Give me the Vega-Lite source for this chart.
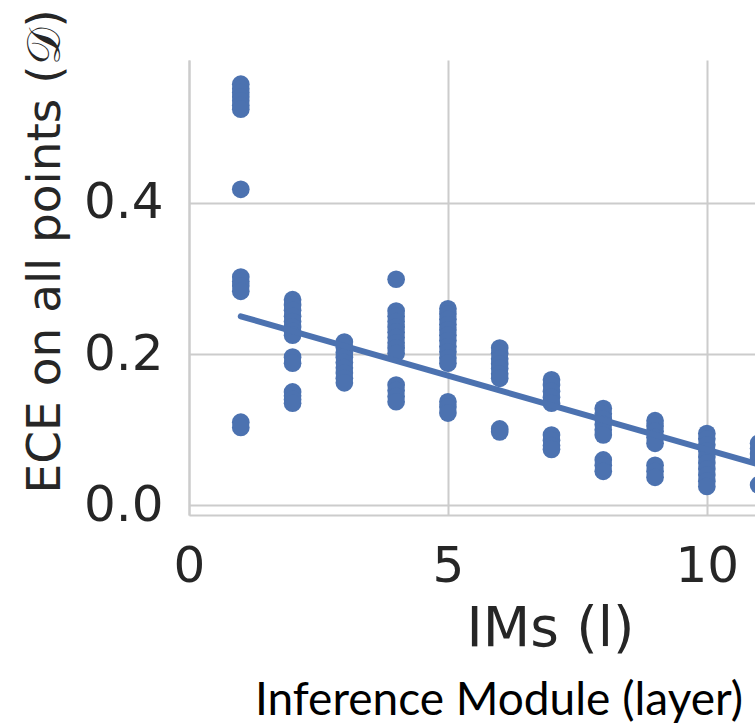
{
  "$schema": "https://vega.github.io/schema/vega-lite/v6.json",
  "width": 566,
  "height": 455,
  "autosize": {"type": "none"},
  "padding": {"left": 189, "top": 60, "right": 0, "bottom": 211},
  "background": "white",
  "config": {
    "view": {"stroke": null},
    "font": "DejaVu Sans"
  },
  "title": {
    "text": "Inference Module (layer)",
    "orient": "bottom",
    "anchor": "middle",
    "frame": "group",
    "font": "Lato",
    "fontSize": 46,
    "fontWeight": "normal",
    "color": "#000000",
    "dx": 27,
    "offset": 23
  },
  "datasets": {
    "pts": [
      {"l": 1, "ece": 0.557}, {"l": 1, "ece": 0.551}, {"l": 1, "ece": 0.546}, {"l": 1, "ece": 0.540}, {"l": 1, "ece": 0.535}, {"l": 1, "ece": 0.529}, {"l": 1, "ece": 0.524},
      {"l": 1, "ece": 0.418},
      {"l": 1, "ece": 0.302}, {"l": 1, "ece": 0.296}, {"l": 1, "ece": 0.290}, {"l": 1, "ece": 0.283},
      {"l": 1, "ece": 0.110}, {"l": 1, "ece": 0.103},
      {"l": 2, "ece": 0.272}, {"l": 2, "ece": 0.265}, {"l": 2, "ece": 0.258}, {"l": 2, "ece": 0.250}, {"l": 2, "ece": 0.243}, {"l": 2, "ece": 0.236}, {"l": 2, "ece": 0.230}, {"l": 2, "ece": 0.225},
      {"l": 2, "ece": 0.196}, {"l": 2, "ece": 0.188},
      {"l": 2, "ece": 0.150}, {"l": 2, "ece": 0.145}, {"l": 2, "ece": 0.140}, {"l": 2, "ece": 0.135},
      {"l": 3, "ece": 0.216}, {"l": 3, "ece": 0.209}, {"l": 3, "ece": 0.202}, {"l": 3, "ece": 0.196}, {"l": 3, "ece": 0.189}, {"l": 3, "ece": 0.182}, {"l": 3, "ece": 0.175}, {"l": 3, "ece": 0.168}, {"l": 3, "ece": 0.162},
      {"l": 4, "ece": 0.299},
      {"l": 4, "ece": 0.257}, {"l": 4, "ece": 0.250}, {"l": 4, "ece": 0.243}, {"l": 4, "ece": 0.236}, {"l": 4, "ece": 0.229}, {"l": 4, "ece": 0.222}, {"l": 4, "ece": 0.215}, {"l": 4, "ece": 0.208}, {"l": 4, "ece": 0.201},
      {"l": 4, "ece": 0.159}, {"l": 4, "ece": 0.152}, {"l": 4, "ece": 0.144}, {"l": 4, "ece": 0.137},
      {"l": 5, "ece": 0.260}, {"l": 5, "ece": 0.253}, {"l": 5, "ece": 0.246}, {"l": 5, "ece": 0.239}, {"l": 5, "ece": 0.232}, {"l": 5, "ece": 0.225}, {"l": 5, "ece": 0.218}, {"l": 5, "ece": 0.210}, {"l": 5, "ece": 0.203}, {"l": 5, "ece": 0.195}, {"l": 5, "ece": 0.188},
      {"l": 5, "ece": 0.137}, {"l": 5, "ece": 0.130}, {"l": 5, "ece": 0.122},
      {"l": 6, "ece": 0.208}, {"l": 6, "ece": 0.201}, {"l": 6, "ece": 0.194}, {"l": 6, "ece": 0.187}, {"l": 6, "ece": 0.181}, {"l": 6, "ece": 0.174}, {"l": 6, "ece": 0.168},
      {"l": 6, "ece": 0.101}, {"l": 6, "ece": 0.097},
      {"l": 7, "ece": 0.166}, {"l": 7, "ece": 0.159}, {"l": 7, "ece": 0.151}, {"l": 7, "ece": 0.143}, {"l": 7, "ece": 0.135},
      {"l": 7, "ece": 0.093}, {"l": 7, "ece": 0.086}, {"l": 7, "ece": 0.079}, {"l": 7, "ece": 0.074},
      {"l": 8, "ece": 0.128}, {"l": 8, "ece": 0.121}, {"l": 8, "ece": 0.114}, {"l": 8, "ece": 0.107}, {"l": 8, "ece": 0.100}, {"l": 8, "ece": 0.093},
      {"l": 8, "ece": 0.060}, {"l": 8, "ece": 0.053}, {"l": 8, "ece": 0.045},
      {"l": 9, "ece": 0.112}, {"l": 9, "ece": 0.105}, {"l": 9, "ece": 0.098}, {"l": 9, "ece": 0.090}, {"l": 9, "ece": 0.082},
      {"l": 9, "ece": 0.053}, {"l": 9, "ece": 0.045}, {"l": 9, "ece": 0.037},
      {"l": 10, "ece": 0.095}, {"l": 10, "ece": 0.088}, {"l": 10, "ece": 0.080}, {"l": 10, "ece": 0.072}, {"l": 10, "ece": 0.064}, {"l": 10, "ece": 0.056}, {"l": 10, "ece": 0.048}, {"l": 10, "ece": 0.040}, {"l": 10, "ece": 0.032}, {"l": 10, "ece": 0.025},
      {"l": 11, "ece": 0.082}, {"l": 11, "ece": 0.075}, {"l": 11, "ece": 0.068}, {"l": 11, "ece": 0.063},
      {"l": 11, "ece": 0.027}
    ],
    "fit": [
      {"l": 1, "ece": 0.250},
      {"l": 11, "ece": 0.054}
    ]
  },
  "encoding": {
    "x": {
      "field": "l",
      "type": "quantitative",
      "scale": {"domain": [0, 10.93], "nice": false, "zero": false},
      "axis": {
        "values": [0, 5, 10],
        "title": "IMs (l)",
        "grid": true,
        "gridColor": "#cccccc",
        "gridWidth": 2,
        "domain": true,
        "domainColor": "#cccccc",
        "domainWidth": 2,
        "ticks": false,
        "labelFlush": false,
        "labelPadding": 26,
        "labelFontSize": 50,
        "labelColor": "#262626",
        "labelFont": "DejaVu Sans",
        "titleFont": "DejaVu Sans",
        "titleFontSize": 55,
        "titleFontWeight": "normal",
        "titleColor": "#262626",
        "titleX": 361,
        "titleY": 130,
        "titleBaseline": "alphabetic",
        "titleAlign": "center"
      }
    },
    "y": {
      "field": "ece",
      "type": "quantitative",
      "scale": {"domain": [-0.0128, 0.589], "nice": false, "zero": false},
      "axis": {
        "values": [0, 0.2, 0.4],
        "format": ".1f",
        "title": "ECE on all points (𝒟)",
        "grid": true,
        "gridColor": "#cccccc",
        "gridWidth": 2,
        "domain": true,
        "domainColor": "#cccccc",
        "domainWidth": 2,
        "ticks": false,
        "labelFlush": false,
        "labelPadding": 26,
        "labelFontSize": 50,
        "labelColor": "#262626",
        "labelFont": "DejaVu Sans",
        "titleFont": "DejaVu Sans",
        "titleFontSize": 47,
        "titleFontWeight": "normal",
        "titleColor": "#262626",
        "titleX": -130,
        "titleY": 433,
        "titleAngle": 270,
        "titleBaseline": "alphabetic",
        "titleAlign": "left"
      }
    }
  },
  "layer": [
    {
      "data": {"name": "pts"},
      "mark": {"type": "circle", "size": 314, "color": "#4c72b0", "opacity": 1, "clip": true}
    },
    {
      "data": {"name": "fit"},
      "mark": {"type": "line", "color": "#4c72b0", "strokeWidth": 6, "strokeCap": "round", "clip": true}
    }
  ]
}
